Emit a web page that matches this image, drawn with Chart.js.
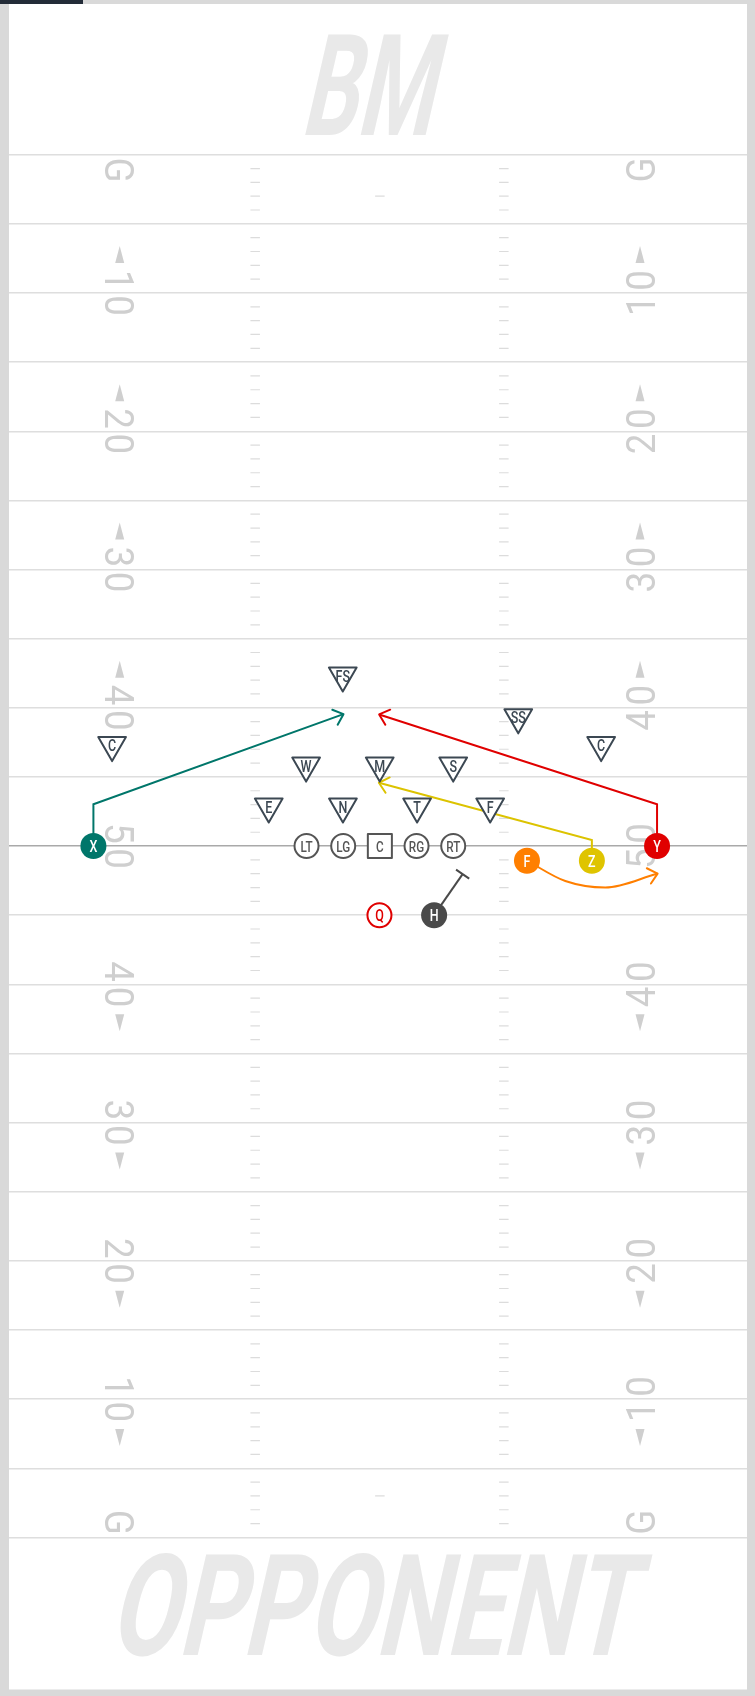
<!DOCTYPE html>
<html>
<head>
<meta charset="utf-8">
<script src="https://cdn.jsdelivr.net/npm/chart.js@4.4.0/dist/chart.umd.min.js"></script>
<style>
  html, body { margin: 0; padding: 0; background: #d9d9d9; }
  #wrap { width: 755px; height: 1696px; }
</style>
</head>
<body>
<div id="wrap"><canvas id="field" width="755" height="1696"></canvas></div>
<script>
// field coords: x = yards from left sideline, y = yard line (0 = BM goal line, 100 = opponent goal line)
var yardLines = [0, 5, 10, 15, 20, 25, 30, 35, 40, 45, 50, 55, 60, 65, 70, 75, 80, 85, 90, 95, 100];
var losYard = 50;
var numberYards = [1.1, 10, 20, 30, 40, 50, 60, 70, 80, 90, 98.9];
var numberLabels = ['G', '10', '20', '30', '40', '50', '40', '30', '20', '10', 'G'];
var arrowDir = [0, -1, -1, -1, -1, 0, 1, 1, 1, 1, 0];
var numberX = [8, 45.6];
var hashX = [17.79, 35.76];
var extraPointX = 26.8;
var extraPointYards = [3, 97];
var endZoneLabels = ['BM', 'OPPONENT'];
var endZoneX = [26.6, 26.9];
var endZoneY = [-5.06, 104.85];

// offense
var skillLabels = ['X', 'Y', 'F', 'Z', 'H'];
var skillX = [6.10, 46.83, 37.43, 42.12, 30.72];
var skillY = [50, 50, 51.06, 51.06, 55];
var skillColors = ['#00766a', '#e00000', '#ff7f00', '#dfc400', '#4a4a4a'];

var qbLabels = ['Q'];
var qbX = [26.77];
var qbY = [55];

var lineLabels = ['LT', 'LG', 'C', 'RG', 'RT'];
var lineX = [21.5, 24.15, 26.8, 29.45, 32.1];
var lineY = [50, 50, 50, 50, 50];
var lineStyles = ['circle', 'circle', 'rect', 'circle', 'circle'];

// defense
var defLabels = ['FS', 'SS', 'C', 'C', 'W', 'M', 'S', 'E', 'N', 'T', 'F'];
var defX = [24.12, 36.80, 7.45, 42.79, 21.47, 26.79, 32.10, 18.77, 24.13, 29.49, 34.77];
var defY = [37.67, 40.69, 42.70, 42.70, 44.18, 44.18, 44.18, 47.14, 47.14, 47.14, 47.14];

// routes
var xPathX = [6.10, 6.10, 24.17];
var xPathY = [50, 46.98, 40.46];
var yPathX = [46.83, 46.83, 26.75];
var yPathY = [50, 46.98, 40.48];
var zPathX = [42.12, 42.12, 26.73];
var zPathY = [51.06, 49.57, 45.42];
var fPathX = [37.43, 40.20, 43.09, 46.87];
var fPathY = [51.06, 52.53, 53.0, 51.99];
var hPathX = [30.72, 32.78];
var hPathY = [55, 52.03];

function pts(xs, ys) {
	var out = [];
	for (var i = 0; i < xs.length; i++) out.push({x: xs[i], y: ys[i]});
	return out;
}

var hashPts = [];
for (var yd = 1; yd < 100; yd++) {
	if (yd % 5 === 0) continue;
	hashPts.push({x: hashX[0], y: yd});
	hashPts.push({x: hashX[1], y: yd});
}
extraPointYards.forEach(function(v) { hashPts.push({x: extraPointX, y: v}); });

function drawSpaced(ctx, text, gap, baseY) {
	var widths = [], total = 0;
	for (var i = 0; i < text.length; i++) {
		widths.push(ctx.measureText(text[i]).width);
		total += widths[i];
	}
	total += gap * (text.length - 1);
	var x = -total / 2;
	ctx.textAlign = 'left';
	for (var j = 0; j < text.length; j++) {
		ctx.fillText(text[j], x, baseY);
		x += widths[j] + gap;
	}
	return total / 2;
}

var fieldArt = {
	id: 'fieldArt',
	beforeDraw: function(chart) {
		var ctx = chart.ctx, a = chart.chartArea;
		ctx.save();
		ctx.fillStyle = '#ffffff';
		ctx.fillRect(a.left, a.top, a.right - a.left, a.bottom - a.top);
		ctx.restore();
	},
	beforeDatasetsDraw: function(chart) {
		var ctx = chart.ctx, xs = chart.scales.x, ys = chart.scales.y;
		ctx.save();

		// end zone names
		var targetW = [121, 518];
		ctx.fillStyle = '#e9e9e9';
		for (var i = 0; i < endZoneLabels.length; i++) {
			ctx.font = 'bold 140px Roboto';
			var cap0 = ctx.measureText('H').actualBoundingBoxAscent;
			var size = 140 * 101 / cap0;
			ctx.font = 'bold ' + size.toFixed(1) + 'px Roboto';
			var m = ctx.measureText(endZoneLabels[i]);
			var inkW = m.actualBoundingBoxLeft + m.actualBoundingBoxRight;
			var sx = targetW[i] / inkW;
			ctx.save();
			ctx.translate(xs.getPixelForValue(endZoneX[i]), ys.getPixelForValue(endZoneY[i]));
			ctx.transform(1, 0, -0.23, 1, 0, 0);
			ctx.scale(sx, 1);
			ctx.textAlign = 'center';
			ctx.textBaseline = 'alphabetic';
			ctx.fillText(endZoneLabels[i], 0, 50.5);
			ctx.restore();
		}

		// yard numbers + arrows
		ctx.fillStyle = '#cfcfcf';
		ctx.font = '400 40px Roboto';
		ctx.textBaseline = 'alphabetic';
		var capH = ctx.measureText('0').actualBoundingBoxAscent;
		var sxN = 0.92;
		for (var n = 0; n < numberLabels.length; n++) {
			var py = ys.getPixelForValue(numberYards[n]);
			for (var s = 0; s < 2; s++) {
				var px = xs.getPixelForValue(numberX[s]);
				ctx.save();
				ctx.translate(px, py);
				ctx.rotate(s === 0 ? Math.PI / 2 : -Math.PI / 2);
				ctx.scale(sxN, 1);
				var half = drawSpaced(ctx, numberLabels[n], 5, capH / 2);
				ctx.restore();
				if (arrowDir[n]) {
					var base = py + arrowDir[n] * (half * sxN + 7);
					var tip = base + arrowDir[n] * 17;
					ctx.beginPath();
					ctx.moveTo(px, tip);
					ctx.lineTo(px - 4.5, base);
					ctx.lineTo(px + 4.5, base);
					ctx.closePath();
					ctx.fill();
				}
			}
		}
		ctx.restore();
		ctx.lineJoin = 'round';
	},
	afterDatasetDraw: function(chart, args) {
		var ds = chart.data.datasets[args.index];
		if (!ds.ending) return;
		var ctx = chart.ctx;
		var el = args.meta.data;
		var end = el[el.length - 1], prev = el[el.length - 2];
		var fx = end.cp1x !== undefined && end.cp1x !== end.x ? end.cp1x : prev.x;
		var fy = end.cp1x !== undefined && end.cp1x !== end.x ? end.cp1y : prev.y;
		var ang = Math.atan2(end.y - fy, end.x - fx);
		ctx.save();
		ctx.strokeStyle = ds.borderColor;
		ctx.lineWidth = 2;
		ctx.lineCap = 'round';
		ctx.lineJoin = 'round';
		ctx.beginPath();
		if (ds.ending === 'arrow') {
			var L = 12, sp = 0.72;
			ctx.moveTo(end.x + Math.cos(ang + Math.PI - sp) * L, end.y + Math.sin(ang + Math.PI - sp) * L);
			ctx.lineTo(end.x, end.y);
			ctx.lineTo(end.x + Math.cos(ang + Math.PI + sp) * L, end.y + Math.sin(ang + Math.PI + sp) * L);
		} else {
			var hb = 8, pa = ang + Math.PI / 2;
			ctx.lineCap = 'butt';
			ctx.moveTo(end.x + Math.cos(pa) * hb, end.y + Math.sin(pa) * hb);
			ctx.lineTo(end.x - Math.cos(pa) * hb, end.y - Math.sin(pa) * hb);
		}
		ctx.stroke();
		ctx.restore();
	},
	afterDatasetsDraw: function(chart) {
		var ctx = chart.ctx;
		chart.data.datasets.forEach(function(ds, i) {
			if (!ds.labels) return;
			var meta = chart.getDatasetMeta(i);
			ctx.save();
			ctx.font = '500 ' + ds.labelSize + 'px Roboto';
			ctx.fillStyle = ds.labelColor;
			ctx.textAlign = 'center';
			ctx.textBaseline = 'alphabetic';
			var cap = ctx.measureText('H').actualBoundingBoxAscent;
			meta.data.forEach(function(pt, j) {
				ctx.save();
				ctx.translate(pt.x, pt.y);
				ctx.scale(0.78, 1);
				ctx.fillText(ds.labels[j], 0, cap / 2);
				ctx.restore();
			});
			ctx.restore();
		});
	},
	afterDraw: function(chart) {
		var ctx = chart.ctx;
		ctx.save();
		ctx.fillStyle = '#232c38';
		ctx.fillRect(0, 0, 83, 4);
		ctx.restore();
	}
};

function route(xs, ys, color, ending, curved) {
	return {
		data: pts(xs, ys),
		showLine: true,
		borderColor: color,
		borderWidth: 2,
		pointRadius: 0,
		cubicInterpolationMode: curved ? 'monotone' : 'default',
		order: 5,
		ending: ending
	};
}

new Chart(document.getElementById('field'), {
	type: 'scatter',
	data: {
		datasets: [
			{
				data: hashPts,
				pointStyle: 'line',
				pointRadius: 4.75,
				pointBorderWidth: 1.2,
				pointBorderColor: '#dcdcdc',
				order: 10
			},
			route(xPathX, xPathY, '#00766a', 'arrow', false),
			route(yPathX, yPathY, '#e00000', 'arrow', false),
			route(zPathX, zPathY, '#dcc300', 'arrow', false),
			route(fPathX, fPathY, '#ff7f00', 'arrow', true),
			route(hPathX, hPathY, '#4a4a4a', 'block', false),
			{
				data: pts(skillX, skillY),
				pointRadius: 13,
				pointBackgroundColor: skillColors,
				pointBorderColor: skillColors,
				pointBorderWidth: 0,
				order: 1,
				labels: skillLabels, labelColor: '#ffffff', labelSize: 16
			},
			{
				data: pts(qbX, qbY),
				pointRadius: 12,
				pointBackgroundColor: '#ffffff',
				pointBorderColor: '#e00000',
				pointBorderWidth: 2,
				order: 1,
				labels: qbLabels, labelColor: '#e00000', labelSize: 16
			},
			{
				data: pts(lineX, lineY),
				pointStyle: lineStyles,
				pointRadius: [12, 12, 17, 12, 12],
				pointBackgroundColor: '#ffffff',
				pointBorderColor: '#555555',
				pointBorderWidth: 2,
				order: 1,
				labels: lineLabels, labelColor: '#555555', labelSize: 15
			},
			{
				data: pts(defX, defY),
				pointStyle: 'triangle',
				pointRotation: 180,
				pointRadius: 16,
				pointBackgroundColor: '#ffffff',
				pointBorderColor: '#3c4853',
				pointBorderWidth: 2,
				order: 1,
				labels: defLabels, labelColor: '#3c4853', labelSize: 16
			}
		]
	},
	options: {
		responsive: false,
		animation: false,
		events: [],
		layout: { autoPadding: false, padding: { left: 9, right: 8, top: 4, bottom: 6.5 } },
		plugins: { legend: { display: false }, tooltip: { enabled: false } },
		scales: {
			x: { type: 'linear', min: 0, max: 53.33, display: false },
			y: {
				type: 'linear', min: -10.9, max: 111, reverse: true,
				afterBuildTicks: function(scale) {
					scale.ticks = yardLines.map(function(v) { return {value: v}; });
				},
				ticks: { display: false },
				border: { display: false },
				grid: {
					drawTicks: false,
					lineWidth: 1.5,
					color: function(c) {
						return c.tick && c.tick.value === losYard ? '#a9a9a9' : '#dedede';
					}
				}
			}
		}
	},
	plugins: [fieldArt]
});
</script>
</body>
</html>
